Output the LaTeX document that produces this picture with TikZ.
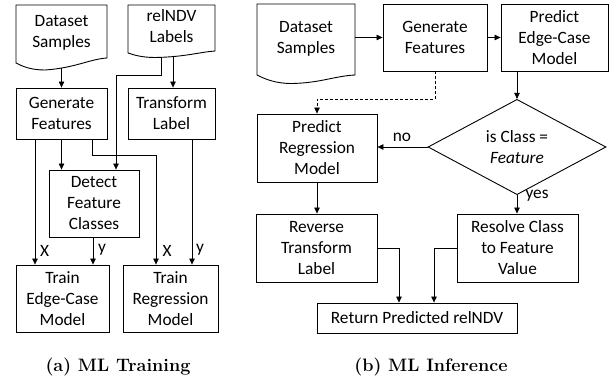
\documentclass[tikz,border=0pt]{standalone}
\usepackage{fontspec}
\newfontfamily\bodyfont{Carlito}
\usetikzlibrary{arrows.meta,shapes.geometric}

\tikzset{
  box/.style={draw, line width=0.9pt, rectangle, align=center, inner sep=0pt,
              font=\bodyfont\fontsize{17.3}{21}\selectfont},
  doctext/.style={rectangle, align=center, inner sep=0pt,
              font=\bodyfont\fontsize{17.3}{21}\selectfont},
  docline/.style={draw, line width=0.9pt, line join=miter},
  decision/.style={draw, line width=0.9pt, diamond, align=center, inner sep=0pt,
              font=\bodyfont\fontsize{17.3}{21}\selectfont},
  arr/.style={line width=0.6pt, -{Triangle[length=6pt,width=5.5pt]}},
  edgelbl/.style={inner sep=0pt, font=\bodyfont\fontsize{17.3}{19}\selectfont},
  caption/.style={inner sep=0pt, font=\bfseries\fontsize{18}{22}\selectfont}
}

\begin{document}
\begin{tikzpicture}[x=1pt, y=-1pt]
\useasboundingbox (0,0) rectangle (616,380);

% ---------------- (a) training ----------------
% document shapes
\node[doctext, minimum width=91pt, minimum height=58pt] (dsA) at (61.5,33) {Dataset\\Samples};
\draw[docline] (16,5) -- (107,5) -- (107,58)
  .. controls (90,59) and (75,68) .. (45,70)
  .. controls (30,70) and (22,66) .. (16,63) -- cycle;
\coordinate (dsAo) at (61.5,68);

\node[doctext, minimum width=87pt, minimum height=48pt] (relA) at (171.5,26) {relNDV\\Labels};
\draw[docline] (128,5) -- (215,5) -- (215,51)
  .. controls (200,52) and (185,57) .. (155,57.5)
  .. controls (142,57.5) and (134,55) .. (128,53) -- cycle;
\coordinate (relAo) at (173,55.5);
\coordinate (relAb) at (161,57);

% process boxes
\node[box, minimum width=91pt, minimum height=51pt] (genA) at (61.5,113.5) {Generate\\Features};
\node[box, minimum width=87pt, minimum height=51pt] (trA) at (171.5,113.5) {Transform\\Label};
\node[box, minimum width=90pt, minimum height=67pt] (detA) at (94,203.5) {Detect\\Feature\\Classes};
\node[box, minimum width=93pt, minimum height=67pt] (teA) at (62.5,298.5) {Train\\Edge-Case\\Model};
\node[box, minimum width=95pt, minimum height=67pt] (trrA) at (170.5,298.5) {Train\\Regression\\Model};

% connectors
\draw[arr] (dsAo) -- (genA.north);
\draw[arr] (relAo) -- (relAo |- trA.north);
\draw[arr] (relAb) -- (161,75) -| ([xshift=22pt]detA.north);
\draw[arr] (genA.south) -- (genA.south |- detA.north);
\draw[arr] ([xshift=-26.5pt]genA.south) -- ([xshift=-26.5pt]genA.south |- teA.north);
\draw[arr] ([xshift=30.5pt]genA.south) -- ++(0,16) -| ([xshift=-14.5pt]trrA.north);
\draw[arr] ([xshift=20.5pt]trA.south) -- ([xshift=20.5pt]trA.south |- trrA.north);
\draw[arr] ([xshift=-1pt]detA.south) -- ([xshift=-1pt]detA.south |- teA.north);

\node[edgelbl] (xA1) at (44.5,251) {X};
\node[edgelbl] (yA1) at (102,250) {y};
\node[edgelbl] (xA2) at (167,251) {X};
\node[edgelbl] (yA2) at (200,250) {y};

\node[caption] (capA) at (118,367) {(a) ML Training};

% ---------------- (b) inference ----------------
\node[doctext, minimum width=98pt, minimum height=71pt] (dsB) at (306,38.5) {Dataset\\Samples};
\draw[docline] (257,4) -- (355,4) -- (355,75)
  .. controls (335,76) and (320,83) .. (292,83.5)
  .. controls (275,83.5) and (265,79) .. (257,75) -- cycle;

\node[box, minimum width=104pt, minimum height=67pt] (genB) at (435,37.5) {Generate\\Features};
\node[box, minimum width=107pt, minimum height=67pt] (peB) at (554.5,37.5) {Predict\\Edge-Case\\Model};
\node[box, minimum width=120pt, minimum height=68pt] (prB) at (317,148) {Predict\\Regression\\Model};
\node[decision, minimum width=178pt, minimum height=82pt] (dia) at (517,147) {is Class =\\\textit{Feature}};
\node[box, minimum width=121pt, minimum height=68pt] (revB) at (316.5,248) {Reverse\\Transform\\Label};
\node[box, minimum width=121pt, minimum height=68pt] (resB) at (517.5,248) {Resolve Class\\to Feature\\Value};
\node[box, minimum width=200pt, minimum height=30pt] (retB) at (417,318) {Return Predicted relNDV};

\draw[arr] (dsB.east |- genB.west) -- (genB.west);
\draw[arr] (genB.east) -- (peB.west);
\draw[arr, dashed, dash pattern=on 3pt off 2pt] (genB.south) -- ++(0,28) -| (prB.north);
\draw[arr] (dia.north |- peB.south) -- (dia.north);
\draw[arr] (dia.west) -- (dia.west -| prB.east);
\draw[arr] (dia.south) -- (dia.south |- resB.north);
\draw[arr] (prB.south) -- (prB.south |- revB.north);
\draw[arr] (revB.east) -| ([xshift=-18pt]retB.north);
\draw[arr] (resB.west) -| ([xshift=17pt]retB.north);

\node[edgelbl] (noL) at (402,137) {no};
\node[edgelbl] (yesL) at (537,196) {yes};

\node[caption] (capB) at (431,367) {(b) ML Inference};
\end{tikzpicture}
\end{document}
